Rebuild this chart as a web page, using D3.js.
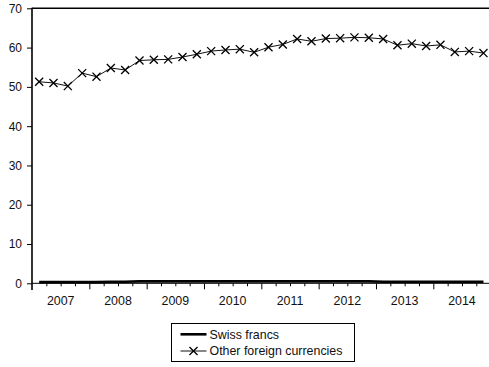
<!DOCTYPE html>
<html>
<head>
<meta charset="utf-8">
<script src="https://cdn.jsdelivr.net/npm/d3@7"></script>
<style>
  html, body { margin: 0; padding: 0; background: #fff; }
  svg { display: block; font-family: "Liberation Sans", Arial, sans-serif; }
</style>
</head>
<body>
<svg id="chart" width="489" height="367"></svg>
<script>
// Quarterly periods, 2007Q1 .. 2014Q4
const years = [2007, 2008, 2009, 2010, 2011, 2012, 2013, 2014];
const periods = [
  "2007Q1","2007Q2","2007Q3","2007Q4","2008Q1","2008Q2","2008Q3","2008Q4",
  "2009Q1","2009Q2","2009Q3","2009Q4","2010Q1","2010Q2","2010Q3","2010Q4",
  "2011Q1","2011Q2","2011Q3","2011Q4","2012Q1","2012Q2","2012Q3","2012Q4",
  "2013Q1","2013Q2","2013Q3","2013Q4","2014Q1","2014Q2","2014Q3","2014Q4"
];
const swissFrancs = [
  0.3, 0.3, 0.3, 0.3, 0.3, 0.4, 0.4, 0.5,
  0.5, 0.5, 0.5, 0.5, 0.5, 0.5, 0.5, 0.5,
  0.5, 0.5, 0.5, 0.5, 0.5, 0.5, 0.5, 0.5,
  0.4, 0.4, 0.4, 0.4, 0.4, 0.4, 0.4, 0.4
];
const otherCurrencies = [
  51.3, 51.0, 50.2, 53.5, 52.6, 54.8, 54.3, 56.7,
  56.9, 57.0, 57.6, 58.3, 59.1, 59.4, 59.6, 58.8,
  60.1, 60.8, 62.2, 61.6, 62.3, 62.4, 62.6, 62.5,
  62.2, 60.6, 61.0, 60.4, 60.7, 58.9, 59.1, 58.6
];
const yTicks = [0, 10, 20, 30, 40, 50, 60, 70];
const seriesNames = ["Swiss francs", "Other foreign currencies"];

const svg = d3.select("#chart");
const plotL = 32, plotR = 32 + 8 * 57.33, plotT = 8.3, plotB = 283.3;

const x = d3.scaleLinear().domain([2007, 2015]).range([plotL, plotR]);
const y = d3.scaleLinear().domain([0, 70]).range([plotB, plotT]);

// time position of each quarter: middle of the quarter
const tPos = p => +p.slice(0, 4) + (+p.slice(5) - 0.5) / 4;

// y axis
const yAxis = svg.append("g")
  .attr("transform", `translate(${plotL},0)`)
  .call(d3.axisLeft(y).tickValues(yTicks).tickSize(5).tickPadding(5).tickFormat(d3.format("d")));
yAxis.select(".domain").remove();
yAxis.selectAll("line").attr("stroke", "#000").attr("stroke-width", 1);
yAxis.selectAll("text").attr("font-size", 12).attr("fill", "#111")
  .attr("font-family", "'Liberation Sans', Arial, sans-serif");

// x axis: quarter ticks, with longer ticks at year boundaries
const quarterTicks = d3.range(2007.25, 2015.01, 0.25);
const xAxis = svg.append("g")
  .attr("transform", `translate(0,${plotB})`)
  .call(d3.axisBottom(x).tickValues(quarterTicks).tickSize(3).tickFormat(""));
xAxis.select(".domain").remove();
xAxis.selectAll(".tick line")
  .attr("stroke", "#000")
  .attr("stroke-width", 1)
  .attr("y2", d => Math.abs(d - Math.round(d)) < 1e-6 ? 6 : 3);

// year labels centred in each year
svg.append("g").selectAll("text").data(years).join("text")
  .attr("x", d => x(d + 0.5))
  .attr("y", 305)
  .attr("text-anchor", "middle")
  .attr("font-size", 12.4)
  .attr("fill", "#111")
  .text(d => d);

// frame lines: x axis, left axis, top border
svg.append("line").attr("x1", plotL).attr("x2", 489).attr("y1", plotB).attr("y2", plotB)
  .attr("stroke", "#000").attr("stroke-width", 1);
svg.append("line").attr("x1", plotL).attr("x2", plotL).attr("y1", plotT - 0.5).attr("y2", 290)
  .attr("stroke", "#000").attr("stroke-width", 1.6);
svg.append("line").attr("x1", plotL).attr("x2", 489).attr("y1", plotT).attr("y2", plotT)
  .attr("stroke", "#000").attr("stroke-width", 1.6);

const line = d3.line().x(d => x(tPos(d.p))).y(d => y(d.v));

// Swiss francs: thick line
const swissData = periods.map((p, i) => ({ p, v: swissFrancs[i] }));
svg.append("path").datum(swissData)
  .attr("d", line).attr("fill", "none")
  .attr("stroke", "#000").attr("stroke-width", 2.6);

// Other foreign currencies: thin line with cross markers
const otherData = periods.map((p, i) => ({ p, v: otherCurrencies[i] }));
svg.append("path").datum(otherData)
  .attr("d", line).attr("fill", "none")
  .attr("stroke", "#111").attr("stroke-width", 1);

const cross = d3.symbol().type(d3.symbolX).size(44);
svg.append("g").selectAll("path").data(otherData).join("path")
  .attr("transform", d => `translate(${x(tPos(d.p))},${y(d.v)})`)
  .attr("d", cross)
  .attr("fill", "none")
  .attr("stroke", "#000")
  .attr("stroke-width", 1.3);

// legend
const lg = svg.append("g");
lg.append("rect").attr("x", 171.5).attr("y", 323.5).attr("width", 183).attr("height", 38)
  .attr("fill", "#fff").attr("stroke", "#000").attr("stroke-width", 1);
const rows = [334.3, 351];
lg.append("line").attr("x1", 180.5).attr("x2", 206.5).attr("y1", rows[0]).attr("y2", rows[0])
  .attr("stroke", "#000").attr("stroke-width", 2.6);
lg.append("line").attr("x1", 180.5).attr("x2", 206.5).attr("y1", rows[1]).attr("y2", rows[1])
  .attr("stroke", "#111").attr("stroke-width", 1);
lg.append("path").attr("transform", `translate(193.5,${rows[1]})`)
  .attr("d", cross).attr("fill", "none").attr("stroke", "#000").attr("stroke-width", 1.3);
lg.selectAll("text").data(seriesNames).join("text")
  .attr("x", 209.5)
  .attr("y", (d, i) => rows[i] + 4.2)
  .attr("font-size", 12.4)
  .attr("fill", "#111")
  .text(d => d);
</script>
</body>
</html>
